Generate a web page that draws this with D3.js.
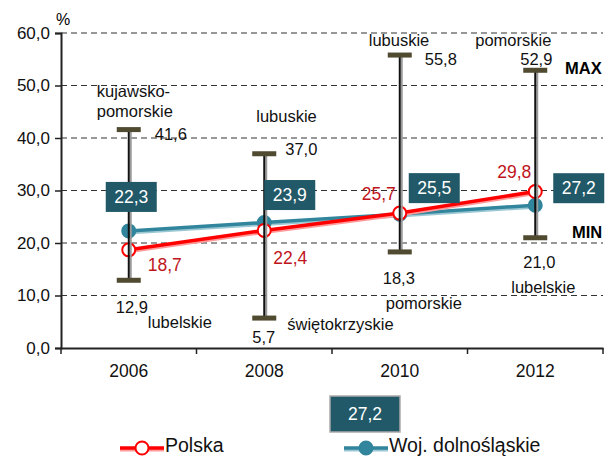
<!DOCTYPE html>
<html>
<head>
<meta charset="utf-8">
<script src="https://cdn.jsdelivr.net/npm/d3@7"></script>
<style>
  body { margin: 0; background: #fff; }
  svg { font-family: "Liberation Sans", Arial, sans-serif; }
</style>
</head>
<body>
<svg id="chart" width="608" height="456"></svg>
<script>
// dane
const years = ['2006', '2008', '2010', '2012'];
const polska = [18.7, 22.4, 25.7, 29.8];
const dolnoslaskie = [22.3, 23.9, 25.5, 27.2];
const maxValues = [41.6, 37.0, 55.8, 52.9];
const minValues = [12.9, 5.7, 18.3, 21.0];
const maxRegions = [['kujawsko-', 'pomorskie'], ['lubuskie'], ['lubuskie'], ['pomorskie']];
const minRegions = ['lubelskie', 'świętokrzyskie', 'pomorskie', 'lubelskie'];
const yTicks = [0, 10, 20, 30, 40, 50, 60];

const svg = d3.select('#chart');

const x = d3.scaleBand().domain(years).range([61, 603]).padding(0);
const y = d3.scaleLinear().domain([0, 60]).range([348, 33]);
const cx = d => x(d) + x.bandwidth() / 2;
const fmt = v => d3.format('.1f')(v).replace('.', ',');

// siatka
svg.append('g')
  .selectAll('line')
  .data(yTicks.filter(t => t > 0))
  .join('line')
  .attr('x1', 61).attr('x2', 603)
  .attr('y1', d => y(d)).attr('y2', d => y(d))
  .attr('stroke', '#333').attr('stroke-width', 1.2)
  .attr('stroke-dasharray', '6,4');

// oś Y
const yAxis = svg.append('g')
  .attr('transform', 'translate(61,0)')
  .call(d3.axisLeft(y).tickValues(yTicks).tickFormat(fmt).tickSize(6).tickPadding(5));
yAxis.select('.domain').attr('stroke', '#222').attr('stroke-width', 2);
yAxis.selectAll('.tick line').attr('stroke', '#222').attr('stroke-width', 1.5);
yAxis.selectAll('.tick text').attr('font-size', 17).attr('fill', '#111');

// oś X
const xAxis = svg.append('g')
  .attr('transform', 'translate(0,348)')
  .call(d3.axisBottom(x).tickSize(0).tickPadding(17));
xAxis.select('.domain').attr('stroke', '#222').attr('stroke-width', 2);
xAxis.selectAll('.tick text').attr('font-size', 17.5).attr('fill', '#111');
// kreski między kategoriami
const edges = years.map(d => x(d)).concat([x.range()[1]]);
svg.append('g')
  .selectAll('line')
  .data(edges)
  .join('line')
  .attr('x1', d => d).attr('x2', d => d)
  .attr('y1', 348).attr('y2', 354)
  .attr('stroke', '#222').attr('stroke-width', 1.5);

svg.append('text').attr('x', 56).attr('y', 25).attr('font-size', 16).text('%');

// linie serii
function drawSeries(values, color, shade, filled) {
  const line = d3.line().x((d, i) => cx(years[i])).y(d => y(d));
  svg.append('path').datum(values).attr('d', line)
    .attr('transform', 'translate(0,1.5)')
    .attr('fill', 'none').attr('stroke', shade).attr('stroke-width', 4);
  svg.append('path').datum(values).attr('d', line)
    .attr('fill', 'none').attr('stroke', color).attr('stroke-width', 3.5);
  svg.append('g').selectAll('circle')
    .data(values)
    .join('circle')
    .attr('cx', (d, i) => cx(years[i]))
    .attr('cy', d => y(d))
    .attr('r', 6.5)
    .attr('fill', filled ? color : '#fff')
    .attr('stroke', color).attr('stroke-width', 2);
}
drawSeries(dolnoslaskie, '#31859c', '#9cc8d4', true);
drawSeries(polska, '#ff0000', '#ff9a9a', false);

// słupki min-max
const bars = svg.append('g');
bars.selectAll('line.shadow')
  .data(years)
  .join('line')
  .attr('class', 'shadow')
  .attr('x1', d => cx(d) + 2).attr('x2', d => cx(d) + 2)
  .attr('y1', (d, i) => y(maxValues[i])).attr('y2', (d, i) => y(minValues[i]))
  .attr('stroke', '#9a9a9a').attr('stroke-width', 2);
bars.selectAll('line.bar')
  .data(years)
  .join('line')
  .attr('class', 'bar')
  .attr('x1', d => cx(d)).attr('x2', d => cx(d))
  .attr('y1', (d, i) => y(maxValues[i])).attr('y2', (d, i) => y(minValues[i]))
  .attr('stroke', '#111').attr('stroke-width', 2);
[maxValues, minValues].forEach(vals => {
  bars.append('g').selectAll('rect')
    .data(vals)
    .join('rect')
    .attr('x', (d, i) => cx(years[i]) - 12)
    .attr('y', d => y(d) - 2.5)
    .attr('width', 24).attr('height', 5)
    .attr('fill', '#4f4a30');
});

// etykiety Polska (czerwone)
const redOffsets = [[19, 21], [9, 34], [-38, -13], [-38, -14]];
svg.append('g').selectAll('text')
  .data(polska)
  .join('text')
  .attr('x', (d, i) => cx(years[i]) + redOffsets[i][0])
  .attr('y', (d, i) => y(d) + redOffsets[i][1])
  .attr('font-size', 17.5).attr('fill', '#c0141c')
  .text(fmt);

// etykiety województwa (pola)
const boxOffsets = [[-23, -49], [0, -42.5], [9, -41], [18, -32]];
const boxes = svg.append('g').selectAll('g')
  .data(dolnoslaskie)
  .join('g')
  .attr('transform', (d, i) => `translate(${cx(years[i]) + boxOffsets[i][0]},${y(d) + boxOffsets[i][1]})`);
boxes.append('rect').attr('width', 51).attr('height', 30).attr('fill', '#215968');
boxes.append('text').attr('x', 25.5).attr('y', 21).attr('text-anchor', 'middle')
  .attr('font-size', 17.5).attr('fill', '#fff').text(fmt);

// etykiety max
const maxValPos = [[26, 10], [21, 1], [25, 10], [-15, -5]];
svg.append('g').selectAll('text')
  .data(maxValues)
  .join('text')
  .attr('x', (d, i) => cx(years[i]) + maxValPos[i][0])
  .attr('y', (d, i) => y(d) + maxValPos[i][1])
  .attr('font-size', 16.5).attr('fill', '#111')
  .text(fmt);
const maxRegPos = [[-32, -33], [-8, -32], [-31, -9], [-60, -24]];
maxRegions.forEach((lines, i) => {
  const t = svg.append('text')
    .attr('x', cx(years[i]) + maxRegPos[i][0])
    .attr('y', y(maxValues[i]) + maxRegPos[i][1])
    .attr('font-size', 16.5).attr('fill', '#111');
  lines.forEach((s, k) => t.append('tspan')
    .attr('x', cx(years[i]) + maxRegPos[i][0]).attr('dy', k ? 20 : 0).text(s));
});

// etykiety min
const minValPos = [[-13, 33], [-12, 25], [-17, 32], [-12, 30]];
svg.append('g').selectAll('text')
  .data(minValues)
  .join('text')
  .attr('x', (d, i) => cx(years[i]) + minValPos[i][0])
  .attr('y', (d, i) => y(d) + minValPos[i][1])
  .attr('font-size', 16.5).attr('fill', '#111')
  .text(fmt);
const minRegPos = [[19, 48], [23, 12], [-14, 57], [-24, 55]];
svg.append('g').selectAll('text')
  .data(minRegions)
  .join('text')
  .attr('x', (d, i) => cx(years[i]) + minRegPos[i][0])
  .attr('y', (d, i) => y(minValues[i]) + minRegPos[i][1])
  .attr('font-size', 16.5).attr('fill', '#111')
  .text(d => d);

svg.append('text').attr('x', 565).attr('y', 74).attr('font-size', 16.5)
  .attr('font-weight', 'bold').text('MAX');
svg.append('text').attr('x', 572).attr('y', 238).attr('font-size', 16.5)
  .attr('font-weight', 'bold').text('MIN');

// pole "27,2" pod wykresem
const stray = svg.append('g').attr('transform', 'translate(330,396)');
stray.append('rect').attr('width', 70).attr('height', 36)
  .attr('fill', '#215968').attr('stroke', '#aaa').attr('stroke-width', 1.5);
stray.append('text').attr('x', 35).attr('y', 24).attr('text-anchor', 'middle')
  .attr('font-size', 17.5).attr('fill', '#fff').text(fmt(dolnoslaskie[3]));

// legenda
const legend = [
  { name: 'Polska', color: '#ff0000', shade: '#ff9a9a', filled: false, x: 120 },
  { name: 'Woj. dolnośląskie', color: '#31859c', shade: '#9cc8d4', filled: true, x: 344 }
];
const lg = svg.append('g').selectAll('g')
  .data(legend)
  .join('g')
  .attr('transform', d => `translate(${d.x},448)`);
lg.append('line').attr('x1', 0).attr('x2', 44).attr('y1', 1.5).attr('y2', 1.5)
  .attr('stroke', d => d.shade).attr('stroke-width', 4);
lg.append('line').attr('x1', 0).attr('x2', 44)
  .attr('stroke', d => d.color).attr('stroke-width', 3.5);
lg.append('circle').attr('cx', 22).attr('r', 6.5)
  .attr('fill', d => d.filled ? d.color : '#fff')
  .attr('stroke', d => d.color).attr('stroke-width', 2);
lg.append('text').attr('x', 45).attr('y', 4).attr('font-size', 19.5).attr('fill', '#111')
  .text(d => d.name);
</script>
</body>
</html>
